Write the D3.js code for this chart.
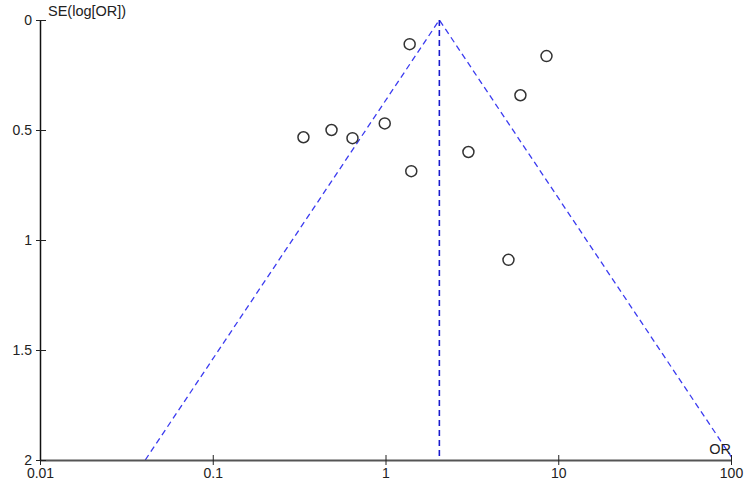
<!DOCTYPE html>
<html>
<head>
<meta charset="utf-8">
<script src="https://cdn.jsdelivr.net/npm/d3@7"></script>
<style>
  body { margin: 0; background: #fff; }
  text { font-family: "Liberation Sans", Arial, sans-serif; fill: #222; }
</style>
</head>
<body>
<div id="chart-area"></div>
<script>
// funnel plot, OR on log x axis, SE(log OR) on reversed y axis
var studyOR = [1.38, 8.55, 6.04, 0.335, 0.487, 0.644, 0.99, 1.41, 3.02, 5.15];
var studySE = [0.11, 0.164, 0.342, 0.533, 0.50, 0.537, 0.47, 0.687, 0.60, 1.09];
var pooledOR = 2.05;
var xTicks = [0.01, 0.1, 1, 10, 100];
var yTicks = [0, 0.5, 1, 1.5, 2];

var margin = { left: 40, right: 19, top: 20, bottom: 40 };
var width = 750 - margin.left - margin.right,
    height = 500 - margin.top - margin.bottom;

var svg = d3.select("#chart-area").append("svg")
    .attr("width", 750)
    .attr("height", 500);
var g = svg.append("g")
    .attr("transform", "translate(" + margin.left + "," + margin.top + ")");

var x = d3.scaleLog().domain([0.01, 100]).range([0, width]);
var y = d3.scaleLinear().domain([0, 2]).range([0, height]);

svg.append("defs").append("clipPath").attr("id", "plotClip")
    .append("rect").attr("width", width).attr("height", height);

// funnel: pooled +/- 1.96 SE on log scale
var funnel = [
    { or: pooledOR * Math.exp(-1.96 * 2), se: 2 },
    { or: pooledOR, se: 0 },
    { or: pooledOR * Math.exp(1.96 * 2), se: 2 }
];
var line = d3.line().x(d => x(d.or)).y(d => y(d.se));

g.append("path")
    .datum(funnel)
    .attr("clip-path", "url(#plotClip)")
    .attr("d", line)
    .attr("fill", "none")
    .attr("stroke", "#3b3bf0")
    .attr("stroke-width", 1.3)
    .attr("stroke-dasharray", "6,4");

g.append("line")
    .attr("x1", x(pooledOR)).attr("x2", x(pooledOR))
    .attr("y1", y(0)).attr("y2", y(2))
    .attr("stroke", "#1a1acc")
    .attr("stroke-width", 1.6)
    .attr("stroke-dasharray", "6,4");

// axes
var xAxis = d3.axisBottom(x).tickValues(xTicks).tickFormat(d3.format("~g")).tickSize(0);
var xg = g.append("g").attr("transform", "translate(0," + height + ")").call(xAxis);
xg.select(".domain").attr("stroke", "#555").attr("stroke-width", 2);
xg.selectAll(".tick").append("line")
    .attr("y1", -5).attr("y2", 5).attr("stroke", "#222");
xg.selectAll(".tick text").attr("y", 8).attr("font-size", 14).attr("fill", "#222");

var yAxis = d3.axisLeft(y).tickValues(yTicks).tickFormat(d3.format("~g")).tickSize(0);
var yg = g.append("g").call(yAxis);
yg.select(".domain").attr("stroke", "#111").attr("stroke-width", 1.5);
yg.selectAll(".tick").append("line")
    .attr("x1", -4).attr("x2", 6).attr("stroke", "#222");
yg.selectAll(".tick text").attr("x", -8).attr("font-size", 14).attr("fill", "#222");

// studies
g.selectAll("circle.study")
    .data(studyOR)
    .enter().append("circle")
    .attr("class", "study")
    .attr("cx", d => x(d))
    .attr("cy", (d, i) => y(studySE[i]))
    .attr("r", 5.5)
    .attr("fill", "none")
    .attr("stroke", "#333")
    .attr("stroke-width", 1.5);

// labels
g.append("text")
    .attr("x", 8).attr("y", -4)
    .attr("font-size", 14.5)
    .text("SE(log[OR])");
g.append("text")
    .attr("x", width).attr("y", height - 6)
    .attr("text-anchor", "end")
    .attr("font-size", 14.5)
    .text("OR");
</script>
</body>
</html>
